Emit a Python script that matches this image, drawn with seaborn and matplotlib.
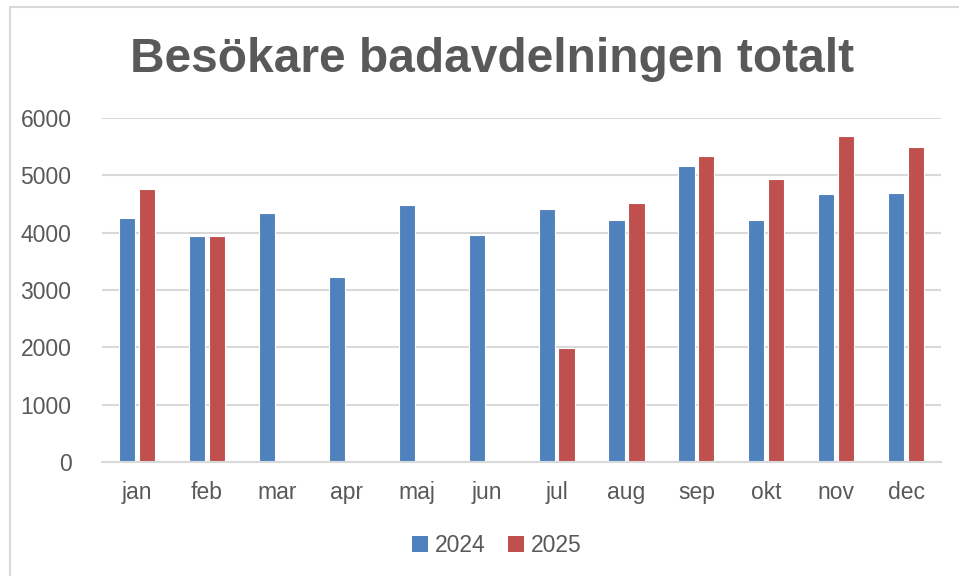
import numpy as np
import pandas as pd
import matplotlib.pyplot as plt
import seaborn as sns
from matplotlib.patches import Patch, Rectangle

# Data
months = ['jan', 'feb', 'mar', 'apr', 'maj', 'jun', 'jul', 'aug', 'sep', 'okt', 'nov', 'dec']
visitors_2024 = [4265, 3937, 4350, 3232, 4485, 3960, 4420, 4228, 5166, 4228, 4683, 4694]
visitors_2025 = [4764, 3937, np.nan, np.nan, np.nan, np.nan, 1980, 4514, 5347, 4933, 5684, 5504]
years = ['2024', '2025']
colors = ['#4F81BD', '#C0504D']

df = pd.DataFrame({
    'month': months * 2,
    'year': [years[0]] * 12 + [years[1]] * 12,
    'visitors': visitors_2024 + visitors_2025,
})

sns.set_theme(style='white')
plt.rcParams['font.family'] = ['Liberation Sans', 'DejaVu Sans']

text_grey = '#595959'
grid_grey = '#D9D9D9'

fig = plt.figure(figsize=(9.59, 5.76), dpi=100)
ax = fig.add_axes([0.1064, 0.198, 0.875, 0.597])

sns.barplot(data=df, x='month', y='visitors', hue='year', order=months,
            hue_order=years, palette=colors, saturation=1, width=0.57, gap=0.19,
            edgecolor='white', linewidth=0.8, legend=False, ax=ax)

ax.set_ylim(0, 6000)
ax.set_xlim(-0.5, 11.5)
ax.set_yticks(range(0, 6001, 1000))
ax.yaxis.grid(True, color=grid_grey, linewidth=1.5)
ax.set_axisbelow(True)
for side in ['left', 'right', 'top']:
    ax.spines[side].set_visible(False)
ax.spines['bottom'].set_color(grid_grey)
ax.spines['bottom'].set_linewidth(1.5)
ax.tick_params(axis='both', length=0, labelsize=16.5, labelcolor=text_grey)
ax.tick_params(axis='y', pad=22)
ax.tick_params(axis='x', pad=14)
ax.set_xlabel('')
ax.set_ylabel('')

fig.text(0.513, 0.897, 'Besökare badavdelningen totalt', ha='center', va='center',
         fontsize=34.5, fontweight='bold', color=text_grey)

handles = [Patch(facecolor=c, edgecolor='none') for c in colors]
fig.legend(handles, years, loc='center', bbox_to_anchor=(0.518, 0.053), ncol=2,
           frameon=False, fontsize=16.5, labelcolor=text_grey,
           handlelength=0.7, handleheight=0.7, handletextpad=0.3, columnspacing=1.0)

# light border of the chart area
fig.add_artist(Rectangle((0.0105, -0.1), 1.5, 1.088, transform=fig.transFigure,
                         fill=False, edgecolor=grid_grey, linewidth=1.5))

fig.savefig('out.png', dpi=100)
